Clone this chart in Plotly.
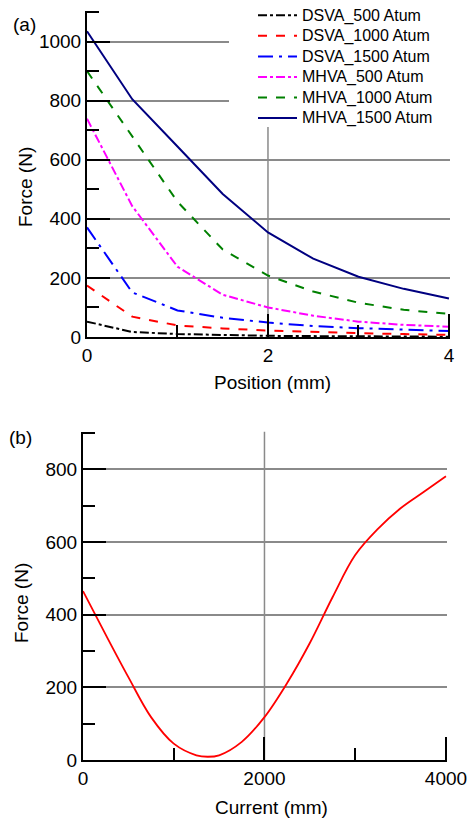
import plotly.graph_objects as go

# ---- panel (a): force vs. position ----
position_mm = [0, 0.5, 1, 1.5, 2, 2.5, 3, 3.5, 4]
dsva_500 = [52, 17, 10, 6, 4, 3, 2, 1.5, 1]
dsva_1000 = [174, 69, 39, 29, 22, 17, 13, 10, 7]
dsva_1500 = [371, 151, 90, 65, 49, 37, 30, 24, 20]
mhva_500 = [739, 443, 238, 143, 100, 72, 52, 41, 35]
mhva_1000 = [900, 680, 458, 296, 208, 154, 116, 92, 78]
mhva_1500 = [1035, 805, 645, 484, 354, 265, 204, 163, 130]

series_names = ["DSVA_500 Atum", "DSVA_1000 Atum", "DSVA_1500 Atum",
                "MHVA_500 Atum", "MHVA_1000 Atum", "MHVA_1500 Atum"]

# ---- panel (b): force vs. current ----
current = [0, 250, 500, 750, 1000, 1250, 1375, 1500, 1750, 2000, 2250,
           2500, 2750, 3000, 3250, 3500, 3750, 4000]
force_b = [465, 345, 228, 118, 45, 13, 9, 13, 50, 118, 212,
           322, 448, 564, 636, 693, 737, 781]

W, H = 467, 821
FONT = "Liberation Sans, Arial, sans-serif"
GRID = "#8a8a8a"

styles = [
    dict(color="#000000", dash="dashdot"),
    dict(color="#ff0000", dash="dash"),
    dict(color="#0000ff", dash="longdashdot"),
    dict(color="#ff00ff", dash="dashdot"),
    dict(color="#008000", dash="dash"),
    dict(color="#000080", dash="solid"),
]

fig = go.Figure()
for name, ys, st in zip(series_names,
                        [dsva_500, dsva_1000, dsva_1500, mhva_500, mhva_1000, mhva_1500],
                        styles):
    fig.add_trace(go.Scatter(
        x=position_mm, y=ys, mode="lines",
        name=f"<span style='font-size:16px'>{name}</span>",
        line=dict(color=st["color"], dash=st["dash"], width=2),
        xaxis="x", yaxis="y"))

fig.add_trace(go.Scatter(x=current, y=force_b, mode="lines", showlegend=False,
                         line=dict(color="#ff0000", width=1.8, shape="spline", smoothing=1.0),
                         xaxis="x2", yaxis="y2"))


def px_x(a, b):
    return [a / W, b / W]


def px_y(top, bottom):
    return [1 - bottom / H, 1 - top / H]


def axis(rng, dtick, minor_dtick, domain, anchor, grid=True):
    return dict(
        range=rng, dtick=dtick, domain=domain, anchor=anchor,
        showline=True, linecolor="black", linewidth=2,
        ticks="inside", ticklen=23, tickwidth=2, tickcolor="black",
        showgrid=grid, gridcolor=GRID, gridwidth=1.5,
        zeroline=False, automargin=False, ticklabeloverflow="allow",
        tickfont=dict(family=FONT, size=19, color="black"),
        minor=dict(dtick=minor_dtick, ticks="inside", ticklen=12, tickwidth=2,
                   tickcolor="black", showgrid=False),
        fixedrange=True,
    )


# ranges run a hair past the last tick so the end ticks are kept
xa = axis([0, 4.016], 2, 1, px_x(87, 450.4), "y", grid=False)
ya = axis([0, 1104.5], 200, 100, px_y(10.7, 337), "x")
xb = axis([0, 4016], 2000, 1000, px_x(83, 447.4), "y2", grid=False)
yb = axis([0, 903.6], 200, 100, px_y(431.7, 760), "x2")

fig.update_layout(
    width=W, height=H,
    margin=dict(l=0, r=0, t=0, b=0, autoexpand=False),
    paper_bgcolor="white", plot_bgcolor="white",
    xaxis=xa, yaxis=ya, xaxis2=xb, yaxis2=yb,
    showlegend=True,
    legend=dict(x=253 / W, y=1.0, xanchor="left", yanchor="top",
                bgcolor="rgba(0,0,0,0)", borderwidth=0,
                itemwidth=39,
                font=dict(family=FONT, size=13.5, color="black"),
                tracegroupgap=0),
    font=dict(family=FONT, color="black"),
)

# single vertical grid line at the middle major tick of each panel
fig.add_shape(type="line", xref="x", yref="y domain", x0=2, x1=2, y0=0, y1=1,
              line=dict(color=GRID, width=1.5), layer="below")
fig.add_shape(type="line", xref="x2", yref="y2 domain", x0=2000, x1=2000, y0=0, y1=1,
              line=dict(color=GRID, width=1.5), layer="below")

# white backing behind the legend block
fig.add_shape(type="rect", xref="paper", yref="paper",
              x0=229 / W, x1=1.0, y0=1 - 127 / H, y1=1.0,
              fillcolor="white", line=dict(width=0), layer="above")


def label(text, x, y, angle=0, size=19):
    fig.add_annotation(text=text, x=x / W, y=1 - y / H, xref="paper", yref="paper",
                       showarrow=False, textangle=angle,
                       font=dict(family=FONT, size=size, color="black"),
                       xanchor="center", yanchor="middle")


label("(a)", 24, 25)
label("(b)", 20, 438)
label("Force (N)", 25, 187, angle=-90)
label("Force (N)", 21, 603, angle=-90)
label("Position (mm)", 272, 382)
label("Current (mm)", 271, 807)

fig.write_html("out.html")
